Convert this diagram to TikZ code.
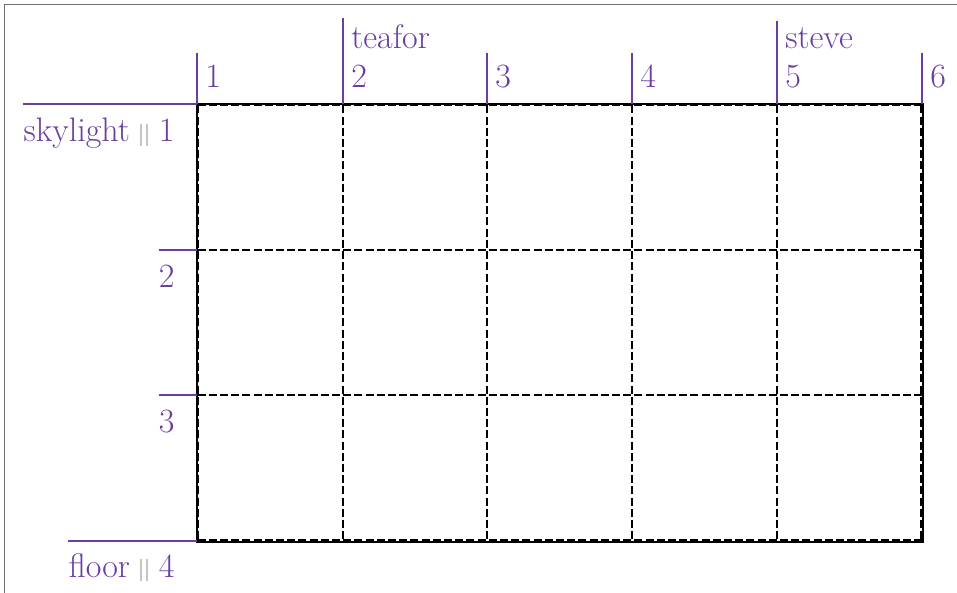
\documentclass[tikz,border=0pt]{standalone}
\usepackage{tikz}
\usetikzlibrary{calc}
\definecolor{markpurple}{HTML}{6A3EA1}
\definecolor{sepgray}{HTML}{C4C4C4}
\definecolor{framegray}{HTML}{6E6E6E}
\newcommand{\gridsep}{\hspace{5pt}{\color{sepgray}\rule[-2pt]{1.1pt}{11pt}\kern1.8pt\rule[-2pt]{1.1pt}{11pt}}\hspace{5.5pt}}

\begin{document}
\begin{tikzpicture}[x=0.5pt,y=-0.5pt,line cap=butt,line join=miter,
    lab/.style={text=markpurple,inner sep=0pt,font=\fontsize{17pt}{20pt}\selectfont},
    markline/.style={draw=markpurple,line width=.6pt},
    cellline/.style={black,line width=.6pt,dash pattern=on 4pt off 1.6pt},
    edge@/.style={black,line width=1pt}]
  \useasboundingbox (0,0) rectangle (957,593);
  % The frame round the picture.
  \draw[framegray,line width=.5pt] (4,5) rectangle (980,620);

  % The grid.
  \draw[edge@] (196.5,104.5) rectangle (922.5,541.5);
  \foreach \x in {198,343,487,632,777,921}
    \draw[cellline] (\x,105.5) -- (\x,540.5);
  \foreach \y in {105.8,250,395,540}
    \draw[cellline] (197.5,\y) -- (921.5,\y);

  % Column lines and their names.
  \foreach \i/\x in {1/197,2/343,3/487,4/632,5/777,6/922}{
    \coordinate (g\i) at (\x,104);
    \node[lab,anchor=base west] (c\i) at (\x+8,88) {\i};
  }
  \node[lab,anchor=base west] (teafor) at (351,49) {teafor};
  \node[lab,anchor=base west] (steve) at (785,49) {steve};
  \foreach \i in {1,3,4,6}
    \draw[markline] (g\i) -- ($(g\i |- c\i.north)+(0,-12)$);
  \draw[markline] (g2) -- ($(g2 |- teafor.north)+(0,-7)$);
  \draw[markline] (g5) -- ($(g5 |- steve.north)+(0,-7)$);

  % Row lines and their names.
  \coordinate (h1) at (197,104);
  \coordinate (h2) at (197,250);
  \coordinate (h3) at (197,395);
  \coordinate (h4) at (197,541);
  \node[lab,anchor=base east] (skylight) at (175,142) {skylight\gridsep 1};
  \node[lab,anchor=base east] (r2) at (175,287) {2};
  \node[lab,anchor=base east] (r3) at (175,432) {3};
  \node[lab,anchor=base east] (floor) at (175,577) {floor\gridsep 4};
  \draw[markline] (skylight.west |- h1) -- (h1);
  \draw[markline] (r2.west |- h2) -- (h2);
  \draw[markline] (r3.west |- h3) -- (h3);
  \draw[markline] (floor.west |- h4) -- (h4);
\end{tikzpicture}
\end{document}
